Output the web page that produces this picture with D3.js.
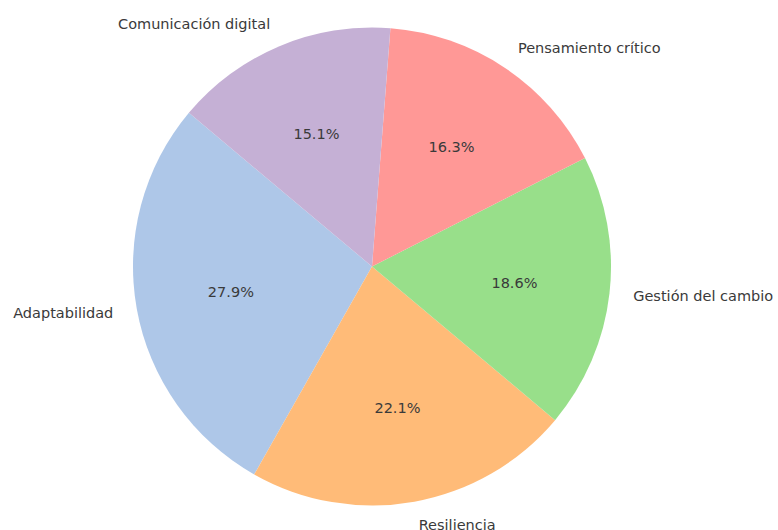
<!DOCTYPE html>
<html>
<head>
<meta charset="utf-8">
<script src="https://cdn.jsdelivr.net/npm/d3@7"></script>
<style>
  body { margin: 0; background: #fff; }
  text { font-family: "DejaVu Sans", sans-serif; }
</style>
</head>
<body>
<svg id="chart"></svg>
<script>
// datos
var categories = ["Adaptabilidad", "Resiliencia", "Gestión del cambio", "Pensamiento crítico", "Comunicación digital"];
var values = [24, 19, 16, 14, 13];
var colors = ["#aec7e8", "#ffbb78", "#98df8a", "#ff9896", "#c5b0d5"];

var size = { width: 778, height: 530 };
var center = { x: 372, y: 266.5 };
var radius = 239;
var startDeg = 140; // como startangle de matplotlib, sentido antihorario

var svg = d3.select("#chart")
  .attr("width", size.width)
  .attr("height", size.height);

var g = svg.append("g")
  .attr("transform", "translate(" + center.x + "," + center.y + ")");

var total = d3.sum(values);

// d3.pie va en sentido horario desde las 12; invertimos para ir antihorario
var pie = d3.pie()
  .sort(null)
  .value(function(d){ return d; })
  .startAngle((90 - startDeg) * Math.PI / 180)
  .endAngle((90 - startDeg) * Math.PI / 180 - 2 * Math.PI);

var arcs = pie(values);

var arc = d3.arc().innerRadius(0).outerRadius(radius);

g.selectAll("path.slice")
  .data(arcs)
  .enter()
  .append("path")
  .attr("class", "slice")
  .attr("d", arc)
  .attr("fill", function(d, i){ return colors[i]; });

function midAngle(d){ return (d.startAngle + d.endAngle) / 2; }

// etiquetas de categoria a 1.1 r
g.selectAll("text.label")
  .data(arcs)
  .enter()
  .append("text")
  .attr("class", "label")
  .attr("x", function(d){ return 1.1 * radius * Math.sin(midAngle(d)); })
  .attr("y", function(d){ return -1.1 * radius * Math.cos(midAngle(d)); })
  .attr("dy", "0.35em")
  .attr("text-anchor", function(d){ return Math.sin(midAngle(d)) >= 0 ? "start" : "end"; })
  .attr("font-size", "14.5px")
  .attr("fill", "#3a3a3a")
  .text(function(d, i){ return categories[i]; });

// porcentajes a 0.6 r
g.selectAll("text.pct")
  .data(arcs)
  .enter()
  .append("text")
  .attr("class", "pct")
  .attr("x", function(d){ return 0.6 * radius * Math.sin(midAngle(d)); })
  .attr("y", function(d){ return -0.6 * radius * Math.cos(midAngle(d)); })
  .attr("dy", "0.35em")
  .attr("text-anchor", "middle")
  .attr("font-size", "14.5px")
  .attr("fill", "#3a3a3a")
  .text(function(d){ return (d.value / total * 100).toFixed(1) + "%"; });
</script>
</body>
</html>
